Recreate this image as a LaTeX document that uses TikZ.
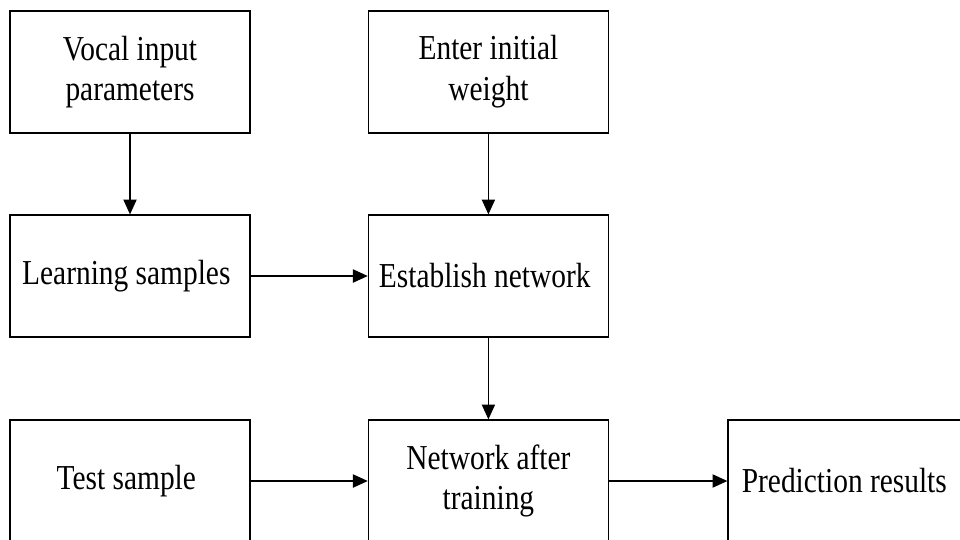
\documentclass[tikz,border=0pt]{standalone}
\usepackage{fontspec}
\setmainfont{Liberation Serif}[FakeStretch=0.84]
\usetikzlibrary{arrows.meta}

\begin{document}
\begin{tikzpicture}[box/.style={draw, rectangle, line width=0.9pt, minimum width=6cm, minimum height=3.05cm, inner sep=0pt, align=center, font=\fontsize{24.9}{29}\selectfont}, >={Triangle[length=0.37cm,width=0.33cm]}, line width=0.9pt]
			\useasboundingbox (0,0) rectangle (24,-13.475);
			\node[box] (a) at ( 3.25, -1.8 ) { Vocal input\\parameters };
			\node[box] (b) at ( 12.21, -1.8 ) { Enter initial\\weight };
			\node[box] (c) at ( 3.25, -6.9 ) { Learning samples };
			\node[box] (d) at ( 12.21, -6.9 ) { Establish network };
			\node[box] (e) at ( 3.25, -12.025 ) { Test sample };
			\node[box] (f) at ( 12.21, -12.025 ) { Network after\\training };
			\node[box] (g) at ( 21.2, -12.025 ) { Prediction results };
		
			\draw[->](a) -- (c);
			\draw[->](b) -- (d);
			\draw[->](c) -- (d);
			\draw[->](d) -- (f);
			\draw[->](e) -- (f);
			\draw[->](f) -- (g);
		\end{tikzpicture}
\end{document}
